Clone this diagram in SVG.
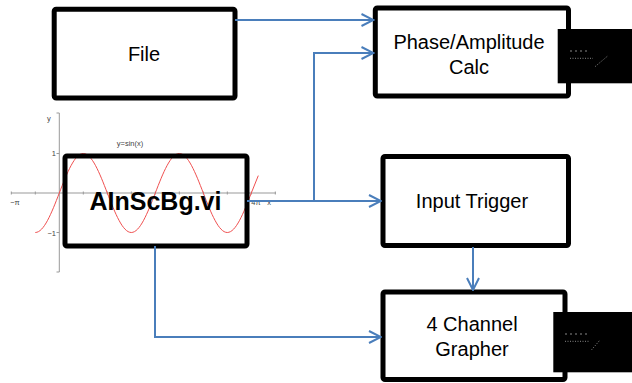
<svg xmlns="http://www.w3.org/2000/svg" width="632" height="383" viewBox="0 0 632 383">
<defs>
<style>
.box{fill:none;stroke:#000;stroke-width:5;stroke-linejoin:round}
.lbl{font-family:"Liberation Sans",Arial,sans-serif;font-size:20px;fill:#000;text-anchor:middle}
.big{font-family:"Liberation Sans",Arial,sans-serif;font-size:25px;font-weight:bold;fill:#000;text-anchor:middle}
.con{fill:none;stroke:#4A7EBB;stroke-width:2}
.ax{stroke:#999;stroke-width:1;fill:none}
.gt{font-family:"Liberation Sans",Arial,sans-serif;font-size:7.5px;fill:#444}
.dots{stroke:#888;stroke-width:1;fill:none}
</style>
<marker id="arr" markerUnits="userSpaceOnUse" viewBox="0 0 14 14" refX="13" refY="7" markerWidth="14" markerHeight="14" orient="auto">
<path d="M1,1 L13,7 L1,13" fill="none" stroke="#4A7EBB" stroke-width="2"/>
</marker>
</defs>
<rect width="632" height="383" fill="#fff"/>

<g id="graph">
<path class="ax" d="M11,193 H276 M59.3,113 V272 M56.5,113 H59.3 M56.5,272 H59.3 M56.5,153.5 H59.3 M56.5,232.5 H59.3"/>
<path class="ax" d="M11.3,191.5 V194.5 M35.3,191.5 V194.5 M83.3,191.5 V194.5 M107.3,191.5 V194.5 M131.3,191.5 V194.5 M155.3,191.5 V194.5 M179.3,191.5 V194.5 M203.3,191.5 V194.5 M227.3,191.5 V194.5 M251.3,191.5 V194.5 M275.3,191.5 V194.5"/>
<path d="M35.3,232.5 C43.9,232.5 51.5,213.2 59.3,193 S74.7,153.5 83.3,153.5 S99.5,172.8 107.3,193 S122.7,232.5 131.3,232.5 S147.5,213.2 155.3,193 S170.7,153.5 179.3,153.5 S195.5,172.8 203.3,193 S218.7,232.5 227.3,232.5 S243.5,213.2 251.3,193 L258.3,175.6" fill="none" stroke="#f05050" stroke-width="1"/>
<text class="gt" x="47" y="121">y</text>
<text class="gt" x="130" y="146" text-anchor="middle">y=sin(x)</text>
<text class="gt" x="56" y="156" text-anchor="end">1</text>
<text class="gt" x="56" y="235.5" text-anchor="end">−1</text>
<text class="gt" x="15" y="205" text-anchor="middle">−π</text>
<text class="gt" x="256" y="205" text-anchor="middle">4π</text>
<text class="gt" x="269" y="205" text-anchor="middle">x</text>
</g>

<g id="file">
<rect class="box" x="54.2" y="9.2" width="180.8" height="88.8" rx="2"/>
<text class="lbl" x="144" y="60.5">File</text>
</g>

<g id="phase">
<rect class="box" x="375.3" y="8" width="193.2" height="88" rx="2"/>
<text class="lbl" x="469" y="49">Phase/Amplitude</text>
<text class="lbl" x="469" y="74">Calc</text>
</g>

<g id="ainscbg">
<rect class="box" x="65" y="156" width="182" height="90" rx="2"/>
<text class="big" x="155.5" y="210">AInScBg.vi</text>
</g>

<g id="trigger">
<rect class="box" x="383" y="156.5" width="185.5" height="89" rx="2"/>
<text class="lbl" x="472" y="208.3">Input Trigger</text>
</g>

<g id="grapher">
<rect class="box" x="383" y="292" width="182" height="87.5" rx="2"/>
<text class="lbl" x="472" y="330.7">4 Channel</text>
<text class="lbl" x="472" y="356">Grapher</text>
</g>

<g id="icon1">
<rect x="557.7" y="29" width="74.3" height="54.3" fill="#000"/>
<path class="dots" stroke-dasharray="2,3" d="M570,51 H588"/>
<path class="dots" stroke-dasharray="1,1.5" d="M570,58.3 H593 M595,66.7 L608,55.7"/>
</g>

<g id="icon2">
<rect x="553.3" y="312" width="78.7" height="60.3" fill="#000"/>
<path class="dots" stroke-dasharray="2,3" d="M565,334 H590"/>
<path class="dots" stroke-dasharray="1,1.5" d="M565,341.3 H590 M591.7,349.7 L600,340"/>
</g>

<g id="connectors">
<path class="con" d="M235,20 H373.5" marker-end="url(#arr)"/>
<path class="con" d="M314,201 V53 H373.5" marker-end="url(#arr)"/>
<path class="con" d="M247,201 H381" marker-end="url(#arr)"/>
<path class="con" d="M155,246 V337 H381" marker-end="url(#arr)"/>
<path class="con" d="M473,247 V290" marker-end="url(#arr)"/>
</g>
</svg>
